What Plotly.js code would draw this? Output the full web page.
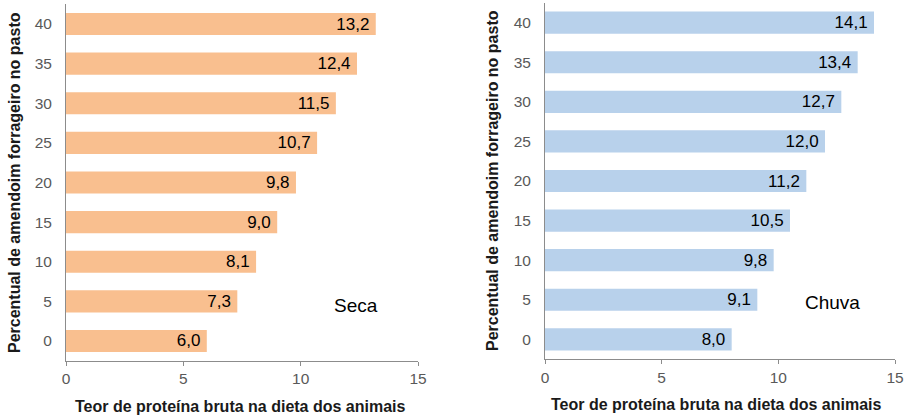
<!DOCTYPE html>
<html>
<head>
<meta charset="utf-8">
<script src="https://cdn.plot.ly/plotly-3.0.1.min.js"></script>
<style>
  html, body { margin: 0; padding: 0; background: #fff; }
  #chart { width: 908px; height: 417px; }
</style>
</head>
<body>
<div id="chart"></div>
<script>
// Percentage of forage peanut in the pasture (categories, bottom to top)
const categories = ["0", "5", "10", "15", "20", "25", "30", "35", "40"];
// Crude protein content in the animals' diet
const secaValues = [6.0, 7.3, 8.1, 9.0, 9.8, 10.7, 11.5, 12.4, 13.2];
const chuvaValues = [8.0, 9.1, 9.8, 10.5, 11.2, 12.0, 12.7, 13.4, 14.1];
const xTicks = [0, 5, 10, 15];
const xTitle = "Teor de proteína bruta na dieta dos animais";
const yTitle = "Percentual de amendoim forrageiro no pasto";

const W = 908, H = 417;
const fmt = v => v.toFixed(1).replace('.', ',');
const FONT = "Liberation Sans, Arial, sans-serif";

function barTrace(vals, color, xa, ya) {
  return {
    type: 'bar', orientation: 'h',
    x: vals, y: categories,
    xaxis: xa, yaxis: ya,
    marker: { color: color, line: { width: 0 } },
    width: 0.56,
    text: vals.map(v => fmt(v) + '\u2009'),
    textposition: 'inside',
    insidetextanchor: 'end',
    textangle: 0,
    textfont: { family: FONT, size: 17, color: '#000' },
    hoverinfo: 'skip',
    showlegend: false
  };
}

function xAxis(x0, x1, anchor) {
  return {
    domain: [x0 / W, x1 / W], anchor: anchor,
    range: [0, 15], tickvals: xTicks, ticktext: xTicks.map(String),
    showgrid: false, zeroline: false,
    showline: true, linecolor: '#8c8c8c', linewidth: 1,
    ticks: 'outside', ticklen: 4, tickcolor: '#8c8c8c',
    tickfont: { family: FONT, size: 15.5, color: '#595959' },
    fixedrange: true
  };
}

function yAxis(top, bottom, anchor) {
  return {
    domain: [1 - bottom / H, 1 - top / H], anchor: anchor,
    type: 'category', range: [-0.5, 8.5],
    showgrid: false, zeroline: false,
    showline: true, linecolor: '#8c8c8c', linewidth: 1,
    ticks: '', ticklabelstandoff: 10,
    tickfont: { family: FONT, size: 15.5, color: '#595959' },
    fixedrange: true
  };
}

const data = [
  barTrace(secaValues, '#F9BF8F', 'x', 'y'),
  barTrace(chuvaValues, '#B8D1EB', 'x2', 'y2')
];

const titleFont = { family: FONT, size: 16, color: '#1a1a1a', weight: 'bold' };

const layout = {
  width: W, height: H,
  margin: { l: 0, r: 0, t: 0, b: 0 },
  paper_bgcolor: '#fff', plot_bgcolor: '#fff',
  uniformtext: { mode: 'show', minsize: 17 },
  xaxis: xAxis(66, 418, 'y'),
  yaxis: yAxis(4.2, 360.8, 'x'),
  xaxis2: xAxis(545, 895, 'y2'),
  yaxis2: yAxis(2.9, 359.1, 'x2'),
  annotations: [
    { text: '<b>' + xTitle + '</b>', xref: 'paper', yref: 'paper',
      x: 240 / W, y: 1 - 406 / H, showarrow: false, font: titleFont,
      xanchor: 'center', yanchor: 'middle' },
    { text: '<b>' + xTitle + '</b>', xref: 'paper', yref: 'paper',
      x: 716 / W, y: 1 - 404 / H, showarrow: false, font: titleFont,
      xanchor: 'center', yanchor: 'middle' },
    { text: '<b>' + yTitle + '</b>', xref: 'paper', yref: 'paper',
      x: 15 / W, y: 1 - 183 / H, showarrow: false, font: titleFont,
      textangle: -90, xanchor: 'center', yanchor: 'middle' },
    { text: '<b>' + yTitle + '</b>', xref: 'paper', yref: 'paper',
      x: 492 / W, y: 1 - 181 / H, showarrow: false, font: titleFont,
      textangle: -90, xanchor: 'center', yanchor: 'middle' },
    { text: 'Seca', xref: 'paper', yref: 'paper',
      x: 356 / W, y: 1 - 305 / H, showarrow: false,
      font: { family: FONT, size: 19, color: '#000' },
      xanchor: 'center', yanchor: 'middle' },
    { text: 'Chuva', xref: 'paper', yref: 'paper',
      x: 832 / W, y: 1 - 302 / H, showarrow: false,
      font: { family: FONT, size: 19, color: '#000' },
      xanchor: 'center', yanchor: 'middle' }
  ]
};

Plotly.newPlot('chart', data, layout, { displayModeBar: false, staticPlot: true });
</script>
</body>
</html>
